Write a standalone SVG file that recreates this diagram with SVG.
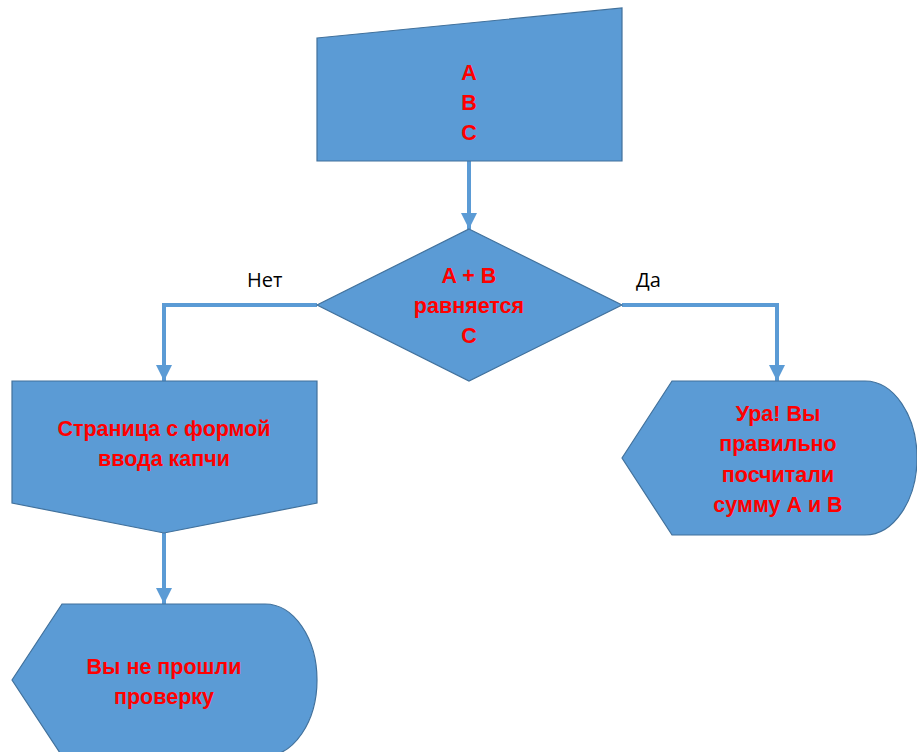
<svg xmlns="http://www.w3.org/2000/svg" width="917" height="752" viewBox="0 0 917 752">
<defs>
<style>
.shape{fill:#5B9BD5;stroke:#41719C;stroke-width:1.2}
.lbl{font-family:"Liberation Sans",Arial,sans-serif;font-weight:bold;font-size:21.5px;fill:#FF0000;text-anchor:middle}
.edge{font-family:"Open Sans","Liberation Sans",sans-serif;font-size:20px;fill:#000}
.conn{fill:none;stroke:#5B9BD5;stroke-width:4}
</style>
<marker id="arr" markerUnits="userSpaceOnUse" markerWidth="16" markerHeight="18" refX="16" refY="8" orient="auto" viewBox="0 0 16 16">
<path d="M0,0 L16,8 L0,16 Z" fill="#5B9BD5"/>
</marker>
</defs>
<rect width="917" height="752" fill="#fff"/>
<g id="connectors">
<path class="conn" d="M469,161 V229" marker-end="url(#arr)"/>
<path class="conn" d="M317,305 H164 V381" marker-end="url(#arr)"/>
<path class="conn" d="M622,305 H777 V381" marker-end="url(#arr)"/>
<path class="conn" d="M164,533 V604" marker-end="url(#arr)"/>
<text class="edge" x="247" y="287">Нет</text>
<text class="edge" x="636" y="287">Да</text>
</g>
<g id="input">
<polygon class="shape" points="317,38 622,8 622,161 317,161"/>
<text class="lbl" x="469" y="80">A</text>
<text class="lbl" x="469" y="110">B</text>
<text class="lbl" x="469" y="140">C</text>
</g>
<g id="decision">
<polygon class="shape" points="469,229 622,305 469,381 317,305"/>
<text class="lbl" x="469" y="283">A + B</text>
<text class="lbl" x="469" y="313">равняется</text>
<text class="lbl" x="469" y="343">C</text>
</g>
<g id="captcha">
<polygon class="shape" points="12,381 317,381 317,503 164,533 12,503"/>
<text class="lbl" x="164" y="436">Страница с формой</text>
<text class="lbl" x="164" y="466">ввода капчи</text>
</g>
<g id="fail">
<path class="shape" d="M12,680 L62,604 L265,604 A52,76 0 0 1 265,756 L62,756 Z"/>
<text class="lbl" x="164" y="674">Вы не прошли</text>
<text class="lbl" x="164" y="704">проверку</text>
</g>
<g id="success">
<path class="shape" d="M622,458 L672,381 L865,381 A52,77 0 0 1 865,535 L672,535 Z"/>
<text class="lbl" x="778" y="421">Ура! Вы</text>
<text class="lbl" x="778" y="451">правильно</text>
<text class="lbl" x="778" y="482">посчитали</text>
<text class="lbl" x="778" y="512">сумму А и В</text>
</g>
</svg>
